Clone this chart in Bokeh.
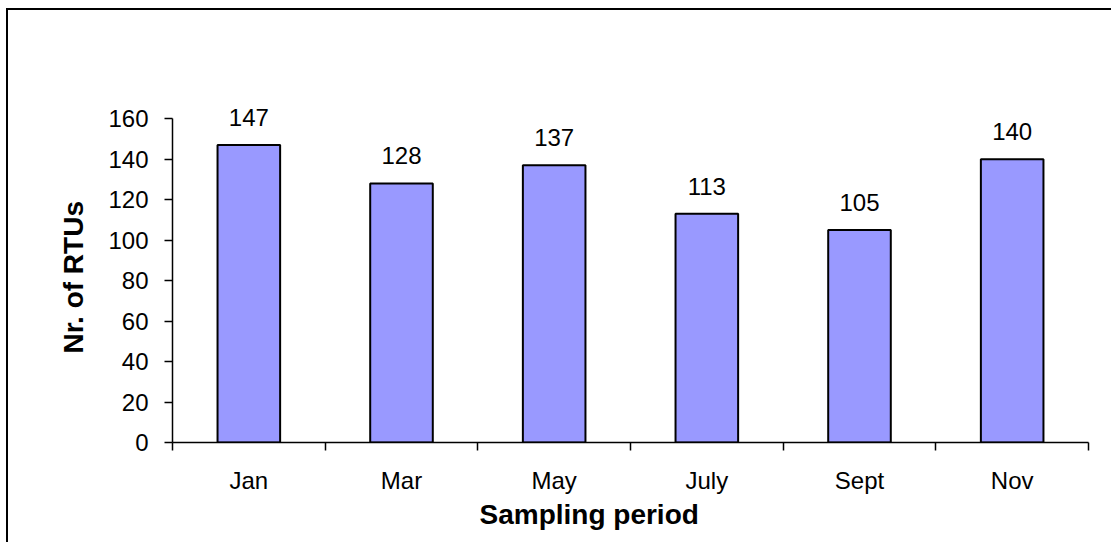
from bokeh.plotting import figure
from bokeh.models import (ColumnDataSource, FactorRange, Range1d, LinearAxis, CategoricalAxis,
                          FixedTicker, LabelSet, Title, CustomJSTickFormatter)
from bokeh.core.properties import value
from bokeh.embed import file_html
from bokeh.resources import INLINE

months = ["Jan", "Mar", "May", "July", "Sept", "Nov"]
rtus = [147, 128, 137, 113, 105, 140]
y_ticks = [0, 20, 40, 60, 80, 100, 120, 140, 160]
y_title = "Nr. of RTUs"
x_title = "Sampling period"

FONT = "Liberation Sans"

src = ColumnDataSource(data=dict(month=months, n=rtus, label=[str(v) for v in rtus]))

p = figure(frame_width=916, frame_height=344,
           x_range=FactorRange(*months), y_range=Range1d(0, 170),
           x_axis_location=None, y_axis_location=None,
           min_border_left=164, min_border_right=25, min_border_top=88, min_border_bottom=102,
           output_backend="svg", toolbar_location=None)
p.styles = {"box-shadow": "-2px -2px 0px 0px black",
            "margin-left": "8px", "margin-top": "10px"}
p.outline_line_color = None
p.xgrid.visible = False
p.ygrid.visible = False
p.background_fill_color = "white"
p.border_fill_color = "white"

p.vbar(x="month", top="n", width=0.41, source=src,
       fill_color="#9999FF", line_color="black", line_width=2)

labels = LabelSet(x="month", y="n", text="label", source=src,
                  text_align="center", text_baseline="alphabetic", y_offset=19,
                  text_font=value(FONT), text_font_size="24px", text_color="black")
p.add_layout(labels)

# y axis
yax = LinearAxis(ticker=FixedTicker(ticks=y_ticks), bounds=(0, 160),
                 major_label_text_font=FONT, major_label_text_font_size="24px",
                 major_label_text_color="black", major_label_standoff=16,
                 major_tick_in=0, major_tick_out=8, minor_tick_line_color=None,
                 axis_line_width=1.5, major_tick_line_width=1.5)
p.add_layout(yax, "left")

ty = Title(text=y_title, align="left", offset=89, text_font=FONT, text_font_size="28px",
           text_font_style="bold", text_color="black", standoff=34)
p.add_layout(ty, "left")

# x axis with ticks at category boundaries (synthetic coordinates 0..N)
xb = LinearAxis(ticker=FixedTicker(ticks=list(range(len(months) + 1))),
                formatter=CustomJSTickFormatter(code="return '';"),
                major_tick_in=0, major_tick_out=8, minor_tick_line_color=None,
                major_label_standoff=0,
                axis_line_width=1.5, major_tick_line_width=1.5)
p.add_layout(xb, "below")

xc = CategoricalAxis(axis_line_color=None, major_tick_line_color=None, minor_tick_line_color=None,
                     major_label_text_font=FONT, major_label_text_font_size="24px",
                     major_label_text_color="black", major_label_standoff=10)
p.add_layout(xc, "below")

t = Title(text=x_title, align="left", offset=307, text_font=FONT, text_font_size="28px",
          text_font_style="bold", text_color="black", standoff=0)
p.add_layout(t, "below")

open("out.html", "w").write(file_html(p, INLINE))
